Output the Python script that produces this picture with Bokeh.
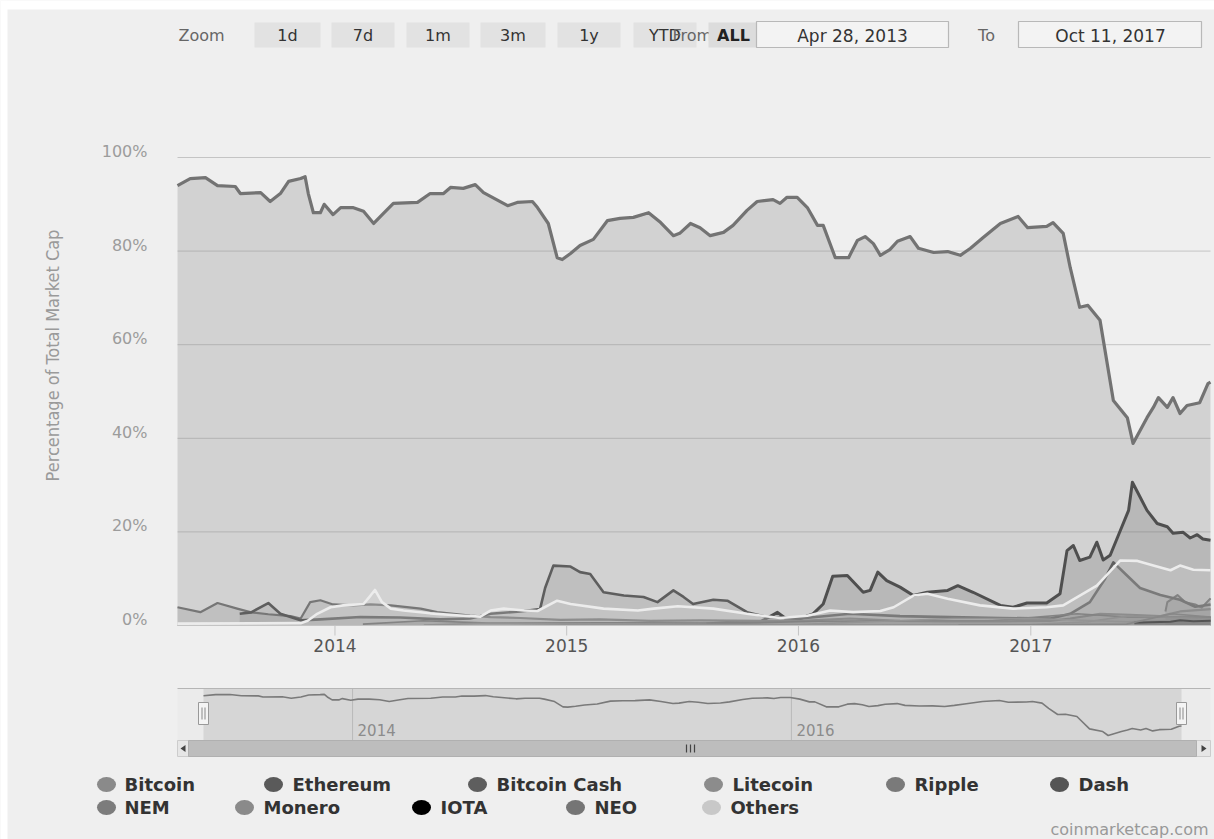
import math
import pandas as pd
from bokeh.plotting import figure
from bokeh.models import Range1d
from bokeh.core.properties import value
from bokeh.embed import file_html
from bokeh.resources import INLINE

# ---------------- data (percent of total market cap) ----------------
btc_dates = ["2013-04-28","2013-05-18","2013-06-11","2013-06-30","2013-07-28","2013-08-05","2013-09-06","2013-09-21","2013-10-07","2013-10-20","2013-11-08","2013-11-15","2013-11-20","2013-11-28","2013-12-09","2013-12-15","2013-12-29","2014-01-10","2014-01-29","2014-02-15","2014-03-03","2014-03-18","2014-04-03","2014-05-11","2014-05-31","2014-06-21","2014-07-02","2014-07-22","2014-08-10","2014-08-23","2014-09-30","2014-10-15","2014-11-08","2014-11-16","2014-12-03","2014-12-17","2014-12-25","2015-01-07","2015-01-22","2015-02-12","2015-03-06","2015-03-26","2015-04-16","2015-05-10","2015-05-29","2015-06-18","2015-06-28","2015-07-15","2015-07-30","2015-08-15","2015-09-05","2015-09-20","2015-10-12","2015-10-28","2015-11-22","2015-12-03","2015-12-14","2015-12-30","2016-01-15","2016-01-31","2016-02-09","2016-02-28","2016-03-20","2016-04-03","2016-04-15","2016-04-28","2016-05-09","2016-05-24","2016-06-05","2016-06-25","2016-07-08","2016-08-01","2016-08-23","2016-09-12","2016-09-28","2016-10-18","2016-11-14","2016-12-12","2016-12-27","2017-01-26","2017-02-05","2017-02-21","2017-03-04","2017-03-19","2017-04-01","2017-04-20","2017-05-11","2017-06-02","2017-06-11","2017-07-03","2017-07-13","2017-07-21","2017-08-04","2017-08-13","2017-08-24","2017-09-04","2017-09-24","2017-10-07","2017-10-11"]
btc_vals = [94.0,95.5,95.7,94.0,93.8,92.3,92.5,90.6,92.3,94.9,95.5,95.9,92.3,88.2,88.2,90.0,87.8,89.3,89.3,88.5,85.9,88.0,90.2,90.4,92.3,92.3,93.6,93.4,94.2,92.5,89.7,90.4,90.6,89.3,85.9,78.6,78.2,79.5,81.2,82.5,86.5,87.0,87.2,88.2,86.1,83.3,83.8,85.9,85.0,83.3,84.0,85.5,88.7,90.6,91.0,90.2,91.5,91.5,89.3,85.5,85.5,78.6,78.6,82.3,83.1,81.6,79.1,80.3,82.1,83.1,80.6,79.7,79.9,79.1,80.6,82.9,85.9,87.4,85.0,85.3,86.1,83.8,76.5,68.0,68.4,65.2,48.1,44.4,38.9,44.4,46.6,48.7,46.6,48.7,45.3,47.0,47.6,51.7,52.0]

eth_dates = ["2015-08-09","2015-09-15","2015-11-02","2015-11-29","2015-12-11","2016-01-04","2016-01-24","2016-02-09","2016-02-24","2016-03-18","2016-04-12","2016-04-23","2016-05-05","2016-05-19","2016-06-09","2016-06-30","2016-07-22","2016-08-23","2016-09-08","2016-10-02","2016-11-14","2016-12-04","2016-12-26","2017-01-26","2017-02-16","2017-02-27","2017-03-09","2017-03-19","2017-04-04","2017-04-15","2017-04-25","2017-05-06","2017-05-22","2017-06-04","2017-06-10","2017-06-20","2017-07-03","2017-07-19","2017-08-04","2017-08-13","2017-08-29","2017-09-09","2017-09-20","2017-09-29","2017-10-11"]
eth_vals = [0.3,0.7,0.8,2.8,1.6,1.5,2.5,4.6,10.5,10.7,7.1,7.5,11.4,9.6,8.2,6.4,7.1,7.5,8.5,7.1,4.3,3.9,4.8,4.8,6.8,16.0,17.1,13.9,14.6,17.8,14.0,15.0,20.3,24.6,30.6,28.0,24.6,21.8,21.1,19.7,19.9,18.7,19.4,18.5,18.2]

bch_dates = ["2017-08-01","2017-08-04","2017-08-20","2017-09-01","2017-09-17","2017-09-27","2017-10-11"]
bch_vals = [3.0,5.0,6.5,5.0,4.5,3.8,5.8]

ltc_dates = ["2013-04-28","2013-06-03","2013-06-30","2013-07-31","2013-08-22","2013-09-18","2013-10-23","2013-11-08","2013-11-23","2013-12-09","2013-12-29","2014-01-30","2014-02-26","2014-03-30","2014-05-16","2014-06-11","2014-08-02","2014-09-03","2014-10-20","2014-12-22","2015-02-23","2015-05-13","2015-07-31","2015-11-02","2016-01-04","2016-03-22","2016-06-09","2016-08-27","2016-11-14","2017-02-01","2017-03-04","2017-04-20","2017-06-07","2017-07-24","2017-08-24","2017-10-11"]
ltc_vals = [3.9,2.85,4.8,3.6,2.8,2.4,2.0,1.5,5.0,5.4,4.5,4.3,4.5,4.3,3.6,2.85,2.1,1.8,1.6,1.2,1.3,1.0,1.1,1.0,1.0,1.5,1.0,0.9,0.9,1.0,1.5,2.5,2.3,2.0,3.0,3.5]

xrp_dates = ["2013-08-04","2013-08-22","2013-09-18","2013-10-07","2013-11-08","2013-12-09","2014-02-10","2014-04-14","2014-06-16","2014-08-02","2014-09-03","2014-10-20","2014-11-20","2014-11-28","2014-12-11","2015-01-07","2015-01-22","2015-02-07","2015-02-28","2015-04-01","2015-05-02","2015-05-24","2015-06-18","2015-07-04","2015-07-19","2015-08-20","2015-09-11","2015-10-12","2015-11-13","2016-01-04","2016-03-22","2016-06-09","2016-08-27","2016-11-14","2017-02-01","2017-03-04","2017-04-04","2017-04-28","2017-05-11","2017-05-30","2017-06-22","2017-07-24","2017-08-24","2017-09-17","2017-10-11"]
xrp_vals = [2.5,2.8,4.8,2.5,1.1,1.3,1.8,1.7,1.3,1.5,2.5,3.0,3.5,8.0,12.8,12.6,11.4,11.0,7.1,6.4,6.1,5.0,7.5,6.1,4.6,5.5,5.3,2.85,1.8,1.5,2.5,2.0,1.8,1.6,1.5,2.5,5.0,10.0,13.5,11.0,8.0,6.5,5.5,4.0,4.5]

dash_dates = ["2014-02-14","2014-05-20","2014-09-01","2015-03-01","2015-10-01","2016-02-01","2016-06-01","2016-11-01","2017-03-15","2017-06-01","2017-10-11"]
dash_vals = [0.3,1.0,0.5,0.6,0.5,0.9,1.0,1.0,2.5,1.8,1.8]

nem_dates = ["2015-04-01","2016-01-01","2017-01-01","2017-04-01","2017-06-01","2017-10-11"]
nem_vals = [0.1,0.1,0.2,0.8,2.0,1.5]

xmr_dates = ["2014-05-21","2014-09-01","2015-01-01","2016-01-01","2016-09-01","2017-01-01","2017-06-01","2017-10-11"]
xmr_vals = [0.1,0.5,0.3,0.2,1.5,1.5,0.8,1.3]

iota_dates = ["2017-06-13","2017-07-08","2017-08-09","2017-08-24","2017-09-14","2017-10-11"]
iota_vals = [0.6,0.7,0.8,1.1,0.9,1.0]

neo_dates = ["2016-09-09","2017-01-01","2017-06-01","2017-08-10","2017-10-11"]
neo_vals = [0.1,0.1,0.3,2.5,1.8]

oth_dates = ["2013-04-28","2013-11-08","2013-11-19","2013-12-04","2013-12-25","2014-01-14","2014-02-15","2014-02-26","2014-03-05","2014-03-16","2014-03-30","2014-04-19","2014-05-31","2014-07-22","2014-08-18","2014-09-03","2014-09-24","2014-10-26","2014-11-16","2014-12-17","2015-01-07","2015-02-28","2015-04-23","2015-05-18","2015-06-25","2015-08-20","2015-10-12","2015-12-03","2016-01-15","2016-02-20","2016-03-27","2016-05-09","2016-05-30","2016-06-30","2016-07-22","2016-08-23","2016-10-13","2016-12-04","2017-01-26","2017-02-21","2017-04-15","2017-05-22","2017-06-18","2017-07-13","2017-08-09","2017-08-24","2017-09-14","2017-10-11"]
oth_vals = [0.4,0.5,1.0,2.5,3.9,4.3,4.6,6.4,7.6,5.0,3.6,3.2,2.6,2.1,1.9,3.2,3.6,3.2,3.1,5.3,4.6,3.6,3.2,3.6,4.1,3.6,2.5,1.6,2.1,3.2,2.85,3.1,3.9,6.4,6.8,5.7,4.3,3.6,3.9,4.3,8.5,13.9,13.8,12.8,11.8,12.8,11.9,11.8]

series_names = ["Bitcoin", "Ethereum", "Bitcoin Cash", "Litecoin", "Ripple", "Dash",
                "NEM", "Monero", "IOTA", "NEO", "Others"]
y_ticks = [0, 20, 40, 60, 80, 100]
y_tick_labels = ["0%", "20%", "40%", "60%", "80%", "100%"]
x_tick_years = ["2014", "2015", "2016", "2017"]
zoom_buttons = ["1d", "7d", "1m", "3m", "1y", "YTD"]
from_date_text = "Apr 28, 2013"
to_date_text = "Oct 11, 2017"
nav_years = ["2014", "2016"]
y_title = "Percentage of Total Market Cap"

# ---------------- styles ----------------
BG = "#efefef"
FONT = "DejaVu Sans"
TITLE_FONT = "'Liberation Sans Narrow', 'DejaVu Sans Condensed', Roboto, sans-serif"
W, H = 1214, 839
series = [
    # name, dates, values, colour, fill alpha, line colour, line width
    ("Bitcoin", btc_dates, btc_vals, "#8a8a8a", 0.28, "#737373", 3.2),
    ("Ethereum", eth_dates, eth_vals, "#5c5c5c", 0.22, "#4f4f4f", 3.0),
    ("Bitcoin Cash", bch_dates, bch_vals, "#5e5e5e", 0.2, "#686868", 2.0),
    ("Litecoin", ltc_dates, ltc_vals, "#8c8c8c", 0.25, "#767676", 2.2),
    ("Ripple", xrp_dates, xrp_vals, "#7a7a7a", 0.22, "#5e5e5e", 2.6),
    ("Dash", dash_dates, dash_vals, "#555555", 0.2, "#6a6a6a", 1.6),
    ("NEM", nem_dates, nem_vals, "#7c7c7c", 0.2, "#7c7c7c", 1.6),
    ("Monero", xmr_dates, xmr_vals, "#8a8a8a", 0.2, "#808080", 1.6),
    ("IOTA", iota_dates, iota_vals, "#000000", 0.2, "#1a1a1a", 2.0),
    ("NEO", neo_dates, neo_vals, "#757575", 0.2, "#707070", 1.6),
    ("Others", oth_dates, oth_vals, "#cfcfcf", 0.25, "#ececec", 2.6),
]
legend_colors = ["#8a8a8a", "#5a5a5a", "#5e5e5e", "#8c8c8c", "#7a7a7a", "#555555",
                 "#7c7c7c", "#8a8a8a", "#000000", "#757575", "#c8c8c8"]

# ---------------- scales ----------------
t_start = pd.Timestamp(btc_dates[0])
t_end = pd.Timestamp(btc_dates[-1])
t0 = t_start.value / 1e6
t1 = t_end.value / 1e6
# main plot area in page pixels
PL, PR, PT, PB = 177, 1210, 157, 625
ms_px = (t1 - t0) / (PR - PL)
pct_px = 100.0 / (PB - PT)
x_main = Range1d(t0 - PL * ms_px, t0 + (W - PL) * ms_px)
y_main = Range1d(-(H - PB) * pct_px, 100 + PT * pct_px)

p = figure(width=W, height=H, x_range=x_main, y_range=y_main,
           toolbar_location=None, output_backend="svg", min_border=0,
           x_axis_location=None, y_axis_location=None,
           background_fill_color=BG, border_fill_color=BG, outline_line_color=None)
p.grid.visible = False

# page-pixel range for decorations
p.extra_x_ranges["px"] = Range1d(0, W)
p.extra_y_ranges["py"] = Range1d(H, 0)
D = dict(x_range_name="px", y_range_name="py")

# navigator ranges
NL, NR, NT, NB = 203, 1181, 688, 740
vmin, vmax = 32, 104
ms_npx = (t1 - t0) / (NR - NL)
v_npx = (vmax - vmin) / (NB - NT)
p.extra_x_ranges["navx"] = Range1d(t0 - NL * ms_npx, t0 + (W - NL) * ms_npx)
p.extra_y_ranges["navy"] = Range1d(vmin - (H - NB) * v_npx, vmin + NB * v_npx)

# white page strip at top/left
p.quad(left=[0, 0], right=[W, 7], top=[0, 0], bottom=[9, H], fill_color="white", line_color=None, **D)

# ---------------- top bar ----------------
p.text(x=[178], y=[35], text=["Zoom"], text_font=value(FONT), text_font_size="16px",
       text_color="#666666", text_align="left", text_baseline="middle", **D)
btn_l = [254, 331, 406, 480, 557, 633]
btn_r = [320, 394, 469, 545, 620, 696]
p.quad(left=btn_l, right=btn_r, top=[22] * 6, bottom=[47] * 6, fill_color="#e2e2e2", line_color=None, **D)
p.text(x=[(a + b) / 2 for a, b in zip(btn_l, btn_r)], y=[35] * 6, text=zoom_buttons,
       text_font=value(FONT), text_font_size="16px", text_color="#333333",
       text_align="center", text_baseline="middle", **D)
p.text(x=[672], y=[35], text=["From"], text_font=value(FONT), text_font_size="16px",
       text_color="#666666", text_align="left", text_baseline="middle", **D)
p.quad(left=[708], right=[756], top=[22], bottom=[47], fill_color="#dcdcdc", line_color=None, **D)
p.text(x=[733], y=[35], text=["ALL"], text_font=value(FONT), text_font_size="16px",
       text_font_style="bold", text_color="#222222", text_align="center", text_baseline="middle", **D)
p.quad(left=[756, 1018], right=[948, 1201], top=[21, 21], bottom=[47, 47],
       fill_color="#f3f3f3", line_color="#b8b8b8", line_width=1.2, **D)
p.text(x=[852, 1110], y=[35, 35], text=[from_date_text, to_date_text], text_font=value(FONT),
       text_font_size="17px", text_color="#333333", text_align="center", text_baseline="middle", **D)
p.text(x=[986], y=[35], text=["To"], text_font=value(FONT), text_font_size="16px",
       text_color="#666666", text_align="center", text_baseline="middle", **D)

# ---------------- main chart ----------------
p.segment(x0=[t_start] * len(y_ticks), x1=[t_end] * len(y_ticks), y0=y_ticks, y1=y_ticks,
          line_color="#c4c4c4", line_width=1)
for name, d, v, col, fa_, lc, lw in series:
    x = pd.to_datetime(d)
    p.varea(x=x, y1=[0] * len(v), y2=v, fill_color=col, fill_alpha=fa_)
    p.line(x=x, y=v, line_color=lc, line_width=lw, line_join="round")

# x axis line, ticks and labels
yrs = [pd.Timestamp(y + "-01-01") for y in x_tick_years]
p.segment(x0=[t_start], x1=[t_end], y0=[0], y1=[0], line_color="#c4c4c4", line_width=1)
p.segment(x0=yrs, x1=yrs, y0=[0] * 4, y1=[-10 * pct_px] * 4, line_color="#c4c4c4", line_width=1)
p.text(x=yrs, y=[0] * 4, y_offset=13, text=x_tick_years, text_font=value(FONT),
       text_font_size="17px", text_color="#555555", text_align="center", text_baseline="top")
# y axis labels
p.text(x=[t_start] * len(y_ticks), y=y_ticks, x_offset=-30, y_offset=-6, text=y_tick_labels,
       text_font=value(FONT), text_font_size="16px", text_color="#9c9c9c",
       text_align="right", text_baseline="middle")
p.text(x=[52], y=[355], text=[y_title], angle=math.pi / 2,
       text_font=value(TITLE_FONT), text_font_size="18px", text_color="#9a9a9a",
       text_align="center", text_baseline="middle", **D)

# ---------------- navigator ----------------
p.quad(left=[177], right=[1210], top=[NT], bottom=[NB], fill_color="#ebebeb", line_color=None, **D)
p.quad(left=[NL], right=[NR], top=[NT], bottom=[NB], fill_color="#d6d6d6", line_color=None, **D)
nyr = [pd.Timestamp(y + "-01-01") for y in nav_years]
p.segment(x0=nyr, x1=nyr, y0=[NT] * 2, y1=[NB] * 2, x_range_name="navx", y_range_name="py",
          line_color="#b9b9b9", line_width=1)
p.text(x=nyr, y=[729] * 2, text=nav_years, x_range_name="navx", y_range_name="py", x_offset=5,
       text_font=value(FONT), text_font_size="15px", text_color="#8c8c8c",
       text_align="left", text_baseline="middle")
p.line(x=pd.to_datetime(btc_dates), y=btc_vals, x_range_name="navx", y_range_name="navy",
       line_color="#7a7a7a", line_width=1.6)
p.segment(x0=[177], x1=[1210], y0=[NT], y1=[NT], line_color="#b5b5b5", line_width=1.2, **D)
p.quad(left=[198, 1176], right=[208, 1186], top=[702, 702], bottom=[724, 724],
       fill_color="#f4f4f4", line_color="#999999", line_width=1, **D)
p.segment(x0=[201.5, 204.5, 1179.5, 1182.5], x1=[201.5, 204.5, 1179.5, 1182.5],
          y0=[707] * 4, y1=[719] * 4, line_color="#888888", line_width=1, **D)
# scrollbar
p.quad(left=[177], right=[1210], top=[740], bottom=[756], fill_color="#e6e6e6", line_color="#cccccc", **D)
p.quad(left=[188], right=[1196], top=[740], bottom=[756], fill_color="#bdbdbd", line_color="#b0b0b0", **D)
p.segment(x0=[686, 690, 694], x1=[686, 690, 694], y0=[744] * 3, y1=[752] * 3,
          line_color="#444444", line_width=1.2, **D)
p.patches(xs=[[180, 185, 185], [1206, 1201, 1201]], ys=[[748, 744.5, 751.5], [748, 744.5, 751.5]],
          fill_color="#444444", line_color=None, **D)

# ---------------- legend ----------------
lg_cx = [106, 273, 477, 713, 895, 1059, 106, 244, 421, 575, 711]
lg_tx = [124, 292, 496, 732, 914, 1078, 124, 263, 440, 594, 730]
lg_y = [784] * 6 + [807] * 5
p.ellipse(x=lg_cx, y=lg_y, width=19, height=15, fill_color=legend_colors, line_color=None, **D)
p.text(x=lg_tx, y=lg_y, text=series_names, text_font=value(FONT), text_font_size="18px",
       text_font_style="bold", text_color="#333333", text_align="left", text_baseline="middle", **D)
p.text(x=[1208], y=[829], text=["coinmarketcap.com"], text_font=value(FONT), text_font_size="16px",
       text_color="#999999", text_align="right", text_baseline="middle", **D)

open("out.html", "w").write(file_html(p, INLINE))
